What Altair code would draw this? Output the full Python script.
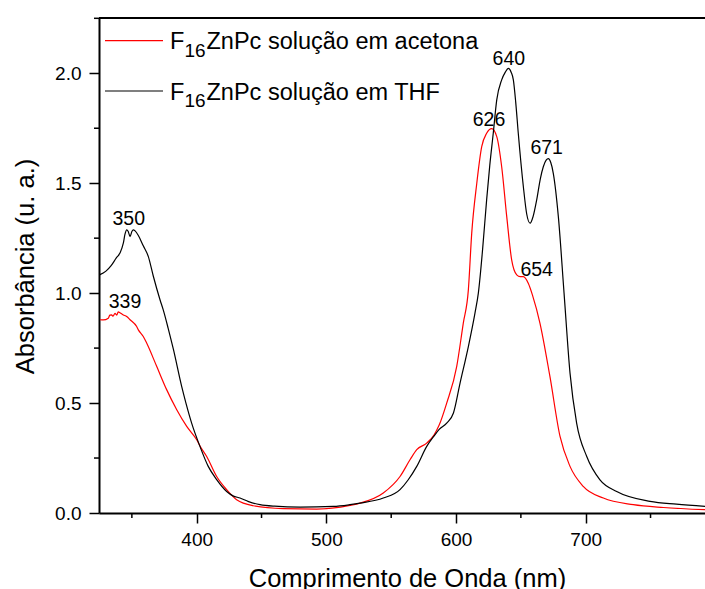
import altair as alt
import pandas as pd

# ---- data ----
thf_nm = [325, 330, 334, 338, 340.8, 343.4, 344.7, 346, 347.2, 348.6, 350, 351.1, 352.5, 355,
          358.8, 362.7, 366.5, 371.7, 374.2, 378, 382, 388.4, 391.7, 396.1, 402.5, 408.9, 415.4,
          423.1, 428, 433.4, 440, 448.8, 460, 479.7, 505.3, 518.2, 526, 543.9, 556.8, 563, 569.7,
          577.4, 583, 587, 592.8, 598, 603.1, 609.5, 614.6, 617.2, 620.5, 623.6, 626, 628.7,
          631.4, 635.2, 638, 640.3, 642.5, 644.2, 646, 648, 651.9, 654.5, 657.1, 659.5, 662.2,
          665, 667.3, 669.5, 671.2, 673, 675, 678.9, 683.3, 687.9, 693, 700.8, 711, 723.9,
          749.6, 770, 792]
thf_abs = [1.083, 1.100, 1.125, 1.160, 1.182, 1.227, 1.268, 1.288, 1.280, 1.257, 1.280, 1.288,
           1.283, 1.262, 1.215, 1.166, 1.078, 0.970, 0.924, 0.840, 0.745, 0.576, 0.500, 0.409,
           0.303, 0.212, 0.152, 0.098, 0.078, 0.068, 0.052, 0.038, 0.031, 0.027, 0.030, 0.038,
           0.045, 0.068, 0.106, 0.150, 0.212, 0.303, 0.350, 0.380, 0.409, 0.455, 0.591, 0.757,
           0.909, 1.000, 1.200, 1.424, 1.580, 1.727, 1.879, 1.970, 2.005, 2.022, 2.005, 1.970,
           1.870, 1.727, 1.485, 1.360, 1.318, 1.350, 1.424, 1.520, 1.575, 1.605, 1.612, 1.595,
           1.545, 1.348, 1.000, 0.636, 0.409, 0.257, 0.151, 0.098, 0.053, 0.040, 0.030]

acet_nm = [325.4, 328, 331.8, 333, 334.4, 335.5, 337, 338.3, 339.5, 341, 343.4, 346, 348.6,
           353.7, 355, 358.8, 361.4, 369.2, 376.9, 384.6, 392.3, 400, 403, 407.7, 415.4, 423.1,
           430.8, 443.6, 466.8, 492.5, 518.2, 526, 543.9, 556.8, 564.5, 569.7, 577.4, 583, 587,
           592.8, 600.5, 605.6, 609.5, 612.1, 616, 619.8, 623.6, 627.5, 631.4, 635.2, 639.1,
           642.9, 646.8, 649.5, 651.9, 655.7, 659, 664.7, 672.4, 680.2, 687.9, 698.1, 713.6,
           736.7, 760, 792]
acet_abs = [0.879, 0.878, 0.886, 0.900, 0.901, 0.895, 0.908, 0.900, 0.915, 0.910, 0.901, 0.894,
            0.879, 0.848, 0.833, 0.803, 0.773, 0.666, 0.560, 0.470, 0.394, 0.333, 0.300, 0.257,
            0.166, 0.106, 0.060, 0.033, 0.020, 0.018, 0.035, 0.045, 0.091, 0.166, 0.242, 0.288,
            0.318, 0.355, 0.400, 0.500, 0.666, 0.864, 1.015, 1.273, 1.500, 1.666, 1.727, 1.748,
            1.712, 1.575, 1.348, 1.151, 1.083, 1.075, 1.075, 1.045, 0.990, 0.864, 0.621, 0.348,
            0.212, 0.121, 0.068, 0.038, 0.025, 0.015]

peak_labels = ["350", "339", "640", "626", "671", "654"]
peak_x = [347.6, 344.7, 640.7, 625.4, 669.9, 662.2]
peak_y = [1.310, 0.932, 2.038, 1.760, 1.633, 1.079]

x_major = [400, 500, 600, 700]
x_minor = [350, 450, 550, 650, 750]
y_major = [0.0, 0.5, 1.0, 1.5, 2.0]
y_minor = [0.25, 0.75, 1.25, 1.75, 2.25]

legend_names = ["ZnPc solução em acetona", "ZnPc solução em THF"]
legend_colors = ["#ff0000", "#000000"]

# ---- chart ----
FONT = "Liberation Sans"
W, H = 606, 495
xscale = alt.Scale(domain=[324.65, 792], nice=False, zero=False)
yscale = alt.Scale(domain=[0, 2.2514], nice=False, zero=True)

df_thf = pd.DataFrame({"nm": thf_nm, "a": thf_abs})
df_ac = pd.DataFrame({"nm": acet_nm, "a": acet_abs})

xaxis = alt.Axis(values=x_major, format="d", title="Comprimento de Onda (nm)", grid=False,
                 labelFont=FONT, labelFontSize=19, labelColor="black", labelPadding=7,
                 tickSize=10, tickWidth=1.5, tickColor="black", domainWidth=2, domainColor="black",
                 titleFont=FONT, titleFontSize=25.5, titleFontWeight="normal", titleColor="black",
                 titleX=308, titleY=73.5, titleBaseline="alphabetic")
yaxis = alt.Axis(values=y_major, format=".1f", title="Absorbância (u. a.)", grid=False,
                 labelFont=FONT, labelFontSize=19, labelColor="black", labelPadding=8,
                 tickSize=10, tickWidth=1.5, tickColor="black", domainWidth=2, domainColor="black",
                 titleFont=FONT, titleFontSize=25.5, titleFontWeight="normal", titleColor="black",
                 titleX=-65.7, titleY=248, titleAngle=270, titleBaseline="alphabetic")

red = alt.Chart(df_ac).mark_line(color="#ff0000", strokeWidth=1.2, clip=True,
                                 interpolate="monotone").encode(
    x=alt.X("nm:Q", scale=xscale, axis=xaxis),
    y=alt.Y("a:Q", scale=yscale, axis=yaxis),
    order="nm:Q",
)
black = alt.Chart(df_thf).mark_line(color="#000000", strokeWidth=1.2, clip=True,
                                    interpolate="monotone").encode(
    x=alt.X("nm:Q", scale=xscale), y=alt.Y("a:Q", scale=yscale), order="nm:Q"
)

peaks = alt.Chart(pd.DataFrame({"t": peak_labels, "x": peak_x, "y": peak_y})).mark_text(
    font=FONT, fontSize=19.5, align="center", baseline="alphabetic", color="black"
).encode(x=alt.X("x:Q", scale=xscale), y=alt.Y("y:Q", scale=yscale), text="t:N")

xminor = alt.Chart(pd.DataFrame({"v": x_minor})).mark_rule(color="black", strokeWidth=1.5).encode(
    x=alt.X("v:Q", scale=xscale), y=alt.value(H), y2=alt.value(H + 5)
)
yminor = alt.Chart(pd.DataFrame({"v": y_minor})).mark_rule(color="black", strokeWidth=1.5).encode(
    y=alt.Y("v:Q", scale=yscale), x=alt.value(0), x2=alt.value(-5)
)
topline = alt.Chart(pd.DataFrame({"d": [0]})).mark_rule(color="black", strokeWidth=2).encode(
    x=alt.value(0), x2=alt.value(W), y=alt.value(0)
)

dummy = pd.DataFrame({"d": [0]})
legend_layers = []
row_line_y = [22.7, 73.0]
row_base_y = [31.0, 81.5]
for i in range(2):
    legend_layers.append(
        alt.Chart(dummy).mark_rule(color=legend_colors[i], strokeWidth=1.2).encode(
            x=alt.value(6), x2=alt.value(64), y=alt.value(row_line_y[i])))
    legend_layers.append(
        alt.Chart(dummy).mark_text(font=FONT, fontSize=23.5, align="left", baseline="alphabetic",
                                   color="black").encode(
            x=alt.value(71), y=alt.value(row_base_y[i]), text=alt.value("F")))
    legend_layers.append(
        alt.Chart(dummy).mark_text(font=FONT, fontSize=19, align="left", baseline="alphabetic",
                                   color="black").encode(
            x=alt.value(85.5), y=alt.value(row_base_y[i] + 7.5), text=alt.value("16")))
    legend_layers.append(
        alt.Chart(dummy).mark_text(font=FONT, fontSize=23.5, align="left", baseline="alphabetic",
                                   color="black").encode(
            x=alt.value(107.5), y=alt.value(row_base_y[i]), text=alt.value(legend_names[i])))

chart = alt.layer(red, black, peaks, xminor, yminor, topline, *legend_layers).properties(
    width=W, height=H,
    autosize=alt.AutoSizeParams(type="none"),
    padding={"left": 99, "top": 18, "right": 0, "bottom": 76},
).configure_view(stroke=None)

chart.save("out.html", embed_options={"renderer": "svg", "actions": False})
